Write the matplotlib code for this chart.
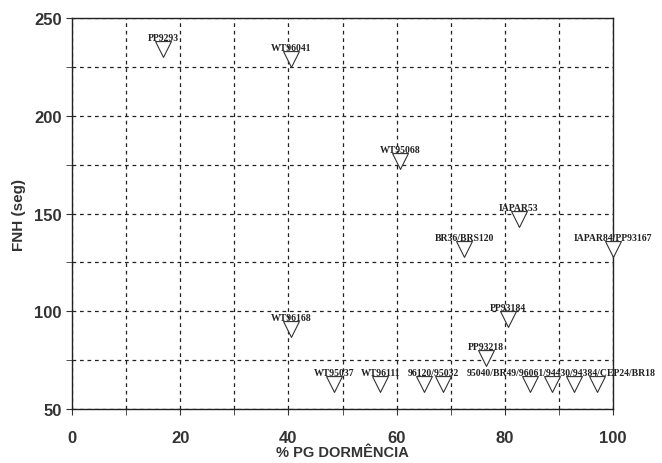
import matplotlib.pyplot as plt
import numpy as np
from matplotlib.ticker import MultipleLocator

# genotypes: % PG dormencia vs FNH (seg)
labels = ['PP9293', 'WT96041', 'WT95068', 'IAPAR53', 'BR36/BRS120',
          'IAPAR84/PP93167', 'PP93184', 'WT96168', 'PP93218',
          'WT95037', 'WT96111', '96120', '95032',
          '95040', 'BR49', '96061', '94384']
pg = [16.8, 40.5, 60.6, 82.6, 72.5, 100.0, 80.6, 40.5, 76.5,
      48.4, 57.0, 65.0, 68.6, 84.7, 88.7, 92.8, 97.0]
fnh = [234, 229, 177, 147, 132, 132, 96, 91, 76,
       63, 63, 63, 63, 63, 63, 63, 63]

# text shown above groups of markers
group_text = ['96120/95032', '95040/BR49/96061/94430/94384/CEP24/BR18']
group_x = [66.8, 90.5]
group_y = [63, 63]
single = ['PP9293', 'WT96041', 'WT95068', 'IAPAR53', 'BR36/BRS120',
          'IAPAR84/PP93167', 'PP93184', 'WT96168', 'PP93218',
          'WT95037', 'WT96111']

fig = plt.figure(figsize=(6.62, 4.64), dpi=100)
ax = fig.add_axes([0.1088, 0.1164, 0.8172, 0.8426])

ax.scatter(pg, fnh, marker='v', s=130, facecolors='white',
           edgecolors='#333333', linewidths=0.8, zorder=3, clip_on=False)

serif = dict(family='Liberation Serif', fontsize=7, fontweight='bold',
             ha='center', va='bottom', color='#222222', zorder=4)
for name, x, y in zip(labels, pg, fnh):
    if name in single:
        ax.annotate(name, (x, y), xytext=(0, 5), textcoords='offset points',
                    annotation_clip=False, **serif)
for name, x, y in zip(group_text, group_x, group_y):
    ax.annotate(name, (x, y), xytext=(0, 5), textcoords='offset points',
                annotation_clip=False, **serif)

ax.set_xlim(0, 100)
ax.set_ylim(50, 250)
ax.xaxis.set_major_locator(MultipleLocator(20))
ax.xaxis.set_minor_locator(MultipleLocator(10))
ax.yaxis.set_major_locator(MultipleLocator(50))
ax.yaxis.set_minor_locator(MultipleLocator(25))
ax.grid(which='both', linestyle=(0, (3, 3)), color='#222222', linewidth=0.9)
ax.set_axisbelow(True)

for sp in ax.spines.values():
    sp.set_color('#222222')
    sp.set_linewidth(1.0)

ax.tick_params(which='both', direction='out', length=4, color='#333333')
ax.tick_params(axis='x', pad=11)
for lab in ax.get_xticklabels() + ax.get_yticklabels():
    lab.set_fontweight('bold')
    lab.set_fontsize(12)
    lab.set_family('Liberation Sans')
    lab.set_color('#333333')

ax.set_xlabel('% PG DORMÊNCIA', fontsize=10.5, fontweight='bold',
              family='Liberation Sans', color='#333333', labelpad=0)
ax.set_ylabel('FNH (seg)', fontsize=11, fontweight='bold',
              family='Liberation Sans', color='#333333', labelpad=6)

fig.savefig('out.png', dpi=100)
